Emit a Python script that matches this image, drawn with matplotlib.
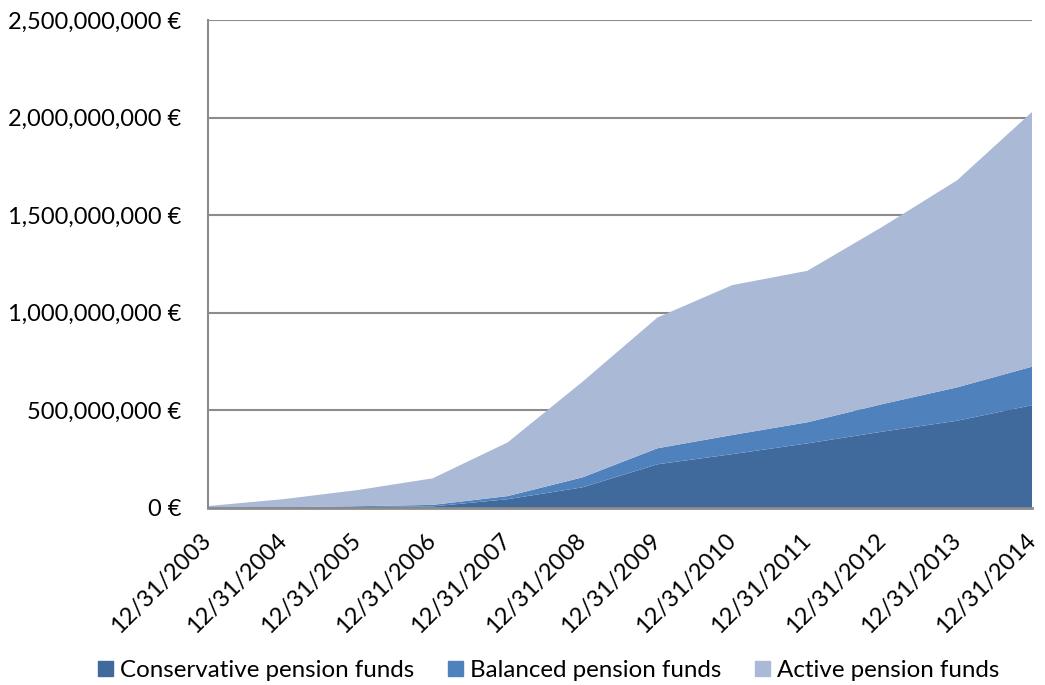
import matplotlib
matplotlib.use("Agg")
import matplotlib.pyplot as plt
from matplotlib.ticker import FuncFormatter
from matplotlib.patches import Patch

plt.rcParams['font.family'] = ['Lato', 'DejaVu Sans']

# year-end values in euro
dates = ['12/31/2003', '12/31/2004', '12/31/2005', '12/31/2006', '12/31/2007', '12/31/2008',
         '12/31/2009', '12/31/2010', '12/31/2011', '12/31/2012', '12/31/2013', '12/31/2014']
conservative = [1e6, 2e6, 5e6, 8e6, 45e6, 106e6, 224e6, 276e6, 331e6, 391e6, 447e6, 527e6]
balanced = [1e6, 2e6, 4e6, 8e6, 16e6, 51e6, 82e6, 98e6, 108e6, 141e6, 171e6, 197e6]
active = [8e6, 41e6, 83e6, 136e6, 275e6, 490e6, 670e6, 768e6, 776e6, 908e6, 1061e6, 1305e6]

labels = ['Conservative pension funds', 'Balanced pension funds', 'Active pension funds']
colors = ['#406a9c', '#4f81bd', '#aab9d6']

fig = plt.figure(figsize=(10.45, 6.85), dpi=100)
ax = fig.add_axes([0.199, 0.2584, 0.7886, 0.7124])

x = list(range(len(dates)))
ax.stackplot(x, conservative, balanced, active, colors=colors, linewidth=0)

ax.set_xlim(0, len(dates) - 1)
ax.set_ylim(0, 2.5e9)
ax.set_yticks([0, 0.5e9, 1e9, 1.5e9, 2e9, 2.5e9])
ax.yaxis.set_major_formatter(FuncFormatter(lambda v, p: '{:,.0f} €'.format(v)))
ax.grid(axis='y', color='#8c8c8c', linewidth=1.5)
ax.set_axisbelow(True)

ax.set_xticks(x)
ax.set_xticklabels(dates, rotation=45, ha='right', va='center', rotation_mode='anchor')
ax.tick_params(axis='both', length=0, colors='black')
ax.tick_params(axis='x', pad=21, labelsize=17)
ax.tick_params(axis='y', pad=19, labelsize=17)

for s in ['top', 'right']:
    ax.spines[s].set_visible(False)
ax.spines['left'].set_color('#8c8c8c')
ax.spines['left'].set_linewidth(1.5)
ax.spines['bottom'].set_color('#8c8c8c')
ax.spines['bottom'].set_linewidth(2)

handles = [Patch(color=c, label=l) for c, l in zip(colors, labels)]
fig.legend(handles=handles, loc='center', bbox_to_anchor=(0.525, 0.021), ncol=3,
           frameon=False, fontsize=17.4, handlelength=0.62, handleheight=0.62,
           handletextpad=0.28, columnspacing=1.4)

fig.savefig('out.png', dpi=100)
